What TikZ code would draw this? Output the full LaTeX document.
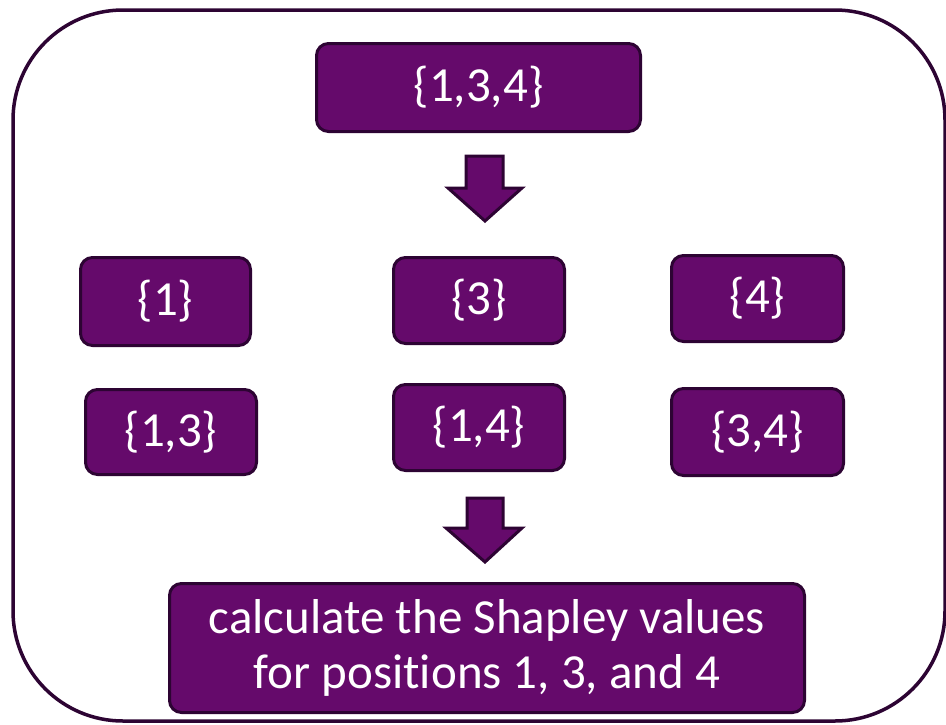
\documentclass[tikz,border=0pt]{standalone}
\usepackage{fontspec}
\setmainfont{Carlito}[Ligatures=CommonOff]
\definecolor{boxfill}{RGB}{101,10,107}
\definecolor{boxedge}{RGB}{45,4,51}
\tikzset{
  setbox/.style={draw=boxedge, fill=boxfill, line width=3pt, rounded corners=12pt,
    text=white, font=\fontsize{49}{55}\selectfont, inner sep=0pt, align=center},
  blockarrow/.style={draw=boxedge, fill=boxfill, line width=3pt, line join=miter},
  frame/.style={draw=boxedge, line width=3.5pt, rounded corners=110pt}
}
\begin{document}
\begin{tikzpicture}[x=1pt,y=-1pt]
\useasboundingbox (0,0) rectangle (946,724);
\draw[frame] (13,10) rectangle (945,721);
\node[setbox, minimum width=324pt, minimum height=88pt] (top) at (478.5,87.5) {\{1,3,4\}};
\node[setbox, minimum width=170pt, minimum height=88pt] (s1) at (165.5,301.5) {\{1\}};
\node[setbox, minimum width=171pt, minimum height=86pt] (s3) at (479,300.5) {\{3\}};
\node[setbox, minimum width=172pt, minimum height=86pt] (s4) at (757.5,298.5) {\{4\}};
\node[setbox, minimum width=171pt, minimum height=85pt] (s13) at (171,432) {\{1,3\}};
\node[setbox, minimum width=171pt, minimum height=86pt] (s14) at (479,427.5) {\{1,4\}};
\node[setbox, minimum width=172pt, minimum height=87pt] (s34) at (757.5,432) {\{3,4\}};
\node[setbox, minimum width=635pt, minimum height=129pt] (calc) at (487,648) {calculate the Shapley values\\for positions 1, 3, and 4};
\draw[blockarrow] (466,156) -- (503,156) -- (503,188) -- (522,188) -- (485,221) -- (448,188) -- (466,188) -- cycle;
\draw[blockarrow] (467,498) -- (503,498) -- (503,528) -- (522,528) -- (485,562) -- (446,528) -- (467,528) -- cycle;
\end{tikzpicture}
\end{document}
